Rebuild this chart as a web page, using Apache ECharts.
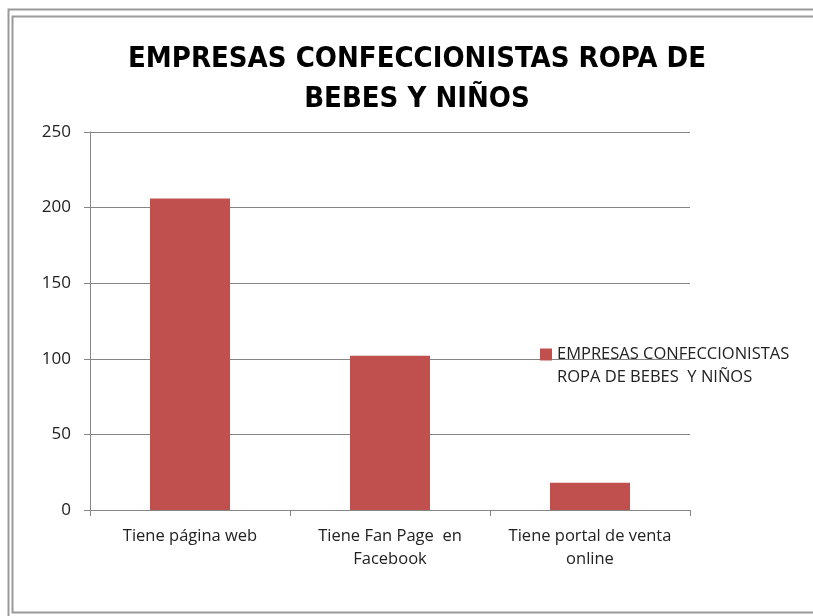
<!DOCTYPE html>
<html>
<head>
<meta charset="utf-8">
<script src="https://cdn.jsdelivr.net/npm/echarts@6/dist/echarts.min.js"></script>
<style>
  html, body { margin: 0; padding: 0; background: #fff; }
  #chart { width: 813px; height: 616px; }
</style>
</head>
<body>
<div id="chart"></div>
<script>
// datos del gráfico
const categories = ['Tiene página web', 'Tiene Fan Page  en\nFacebook', 'Tiene portal de venta\nonline']
const values = [206, 102, 18]
const seriesName = 'EMPRESAS CONFECCIONISTAS ROPA DE BEBES  Y NIÑOS'
const titleText = 'EMPRESAS CONFECCIONISTAS ROPA DE\nBEBES Y NIÑOS'

const axisGray = '#868686'
const labelFont = '"Open Sans", sans-serif'

const myChart = echarts.init(document.getElementById('chart'))

const option = {
    animation: false,
    backgroundColor: '#fff',
    title: {
        text: titleText,
        left: 412,
        textAlign: 'center',
        top: 34,
        textStyle: {
            fontFamily: '"DejaVu Sans Condensed", "Open Sans", sans-serif',
            fontWeight: 'bold',
            fontSize: 29,
            lineHeight: 40,
            color: '#000'
        }
    },
    legend: {
        data: [seriesName],
        left: 540,
        top: 320,
        padding: 0,
        icon: 'rect',
        itemWidth: 12,
        itemHeight: 12,
        itemGap: 0,
        // línea vacía arriba para que el cuadrado quede junto a la primera línea
        formatter: () => '\nEMPRESAS CONFECCIONISTAS\nROPA DE BEBES  Y NIÑOS',
        textStyle: {
            fontFamily: labelFont,
            fontSize: 16.5,
            lineHeight: 23,
            color: '#222'
        }
    },
    grid: {
        left: 90,
        right: 123,
        top: 132,
        bottom: 106
    },
    xAxis: {
        type: 'category',
        data: categories,
        axisLine: { lineStyle: { color: axisGray, width: 1 } },
        axisTick: { show: true, interval: 0, length: 6, lineStyle: { color: axisGray } },
        axisLabel: {
            interval: 0,
            hideOverlap: false,
            margin: 15,
            fontFamily: labelFont,
            fontSize: 16.5,
            lineHeight: 23,
            color: '#222'
        }
    },
    yAxis: {
        type: 'value',
        min: 0,
        max: 250,
        interval: 50,
        axisLine: { show: true, lineStyle: { color: axisGray, width: 1 } },
        axisTick: { show: true, length: 6, lineStyle: { color: axisGray } },
        axisLabel: {
            margin: 19,
            fontFamily: labelFont,
            fontSize: 17,
            color: '#222'
        },
        splitLine: { show: true, lineStyle: { color: axisGray, width: 1 } }
    },
    series: [{
        name: seriesName,
        type: 'bar',
        data: values,
        barWidth: '40%',
        itemStyle: { color: '#C0504D' }
    }],
    graphic: [
        {
            type: 'rect',
            shape: { x: 8.5, y: 9.5, width: 900, height: 700 },
            style: { fill: null, stroke: '#999', lineWidth: 2 },
            silent: true
        },
        {
            type: 'rect',
            shape: { x: 12.5, y: 16.5, width: 900, height: 596 },
            style: { fill: null, stroke: '#999', lineWidth: 2 },
            silent: true
        }
    ]
}

myChart.setOption(option)
</script>
</body>
</html>
